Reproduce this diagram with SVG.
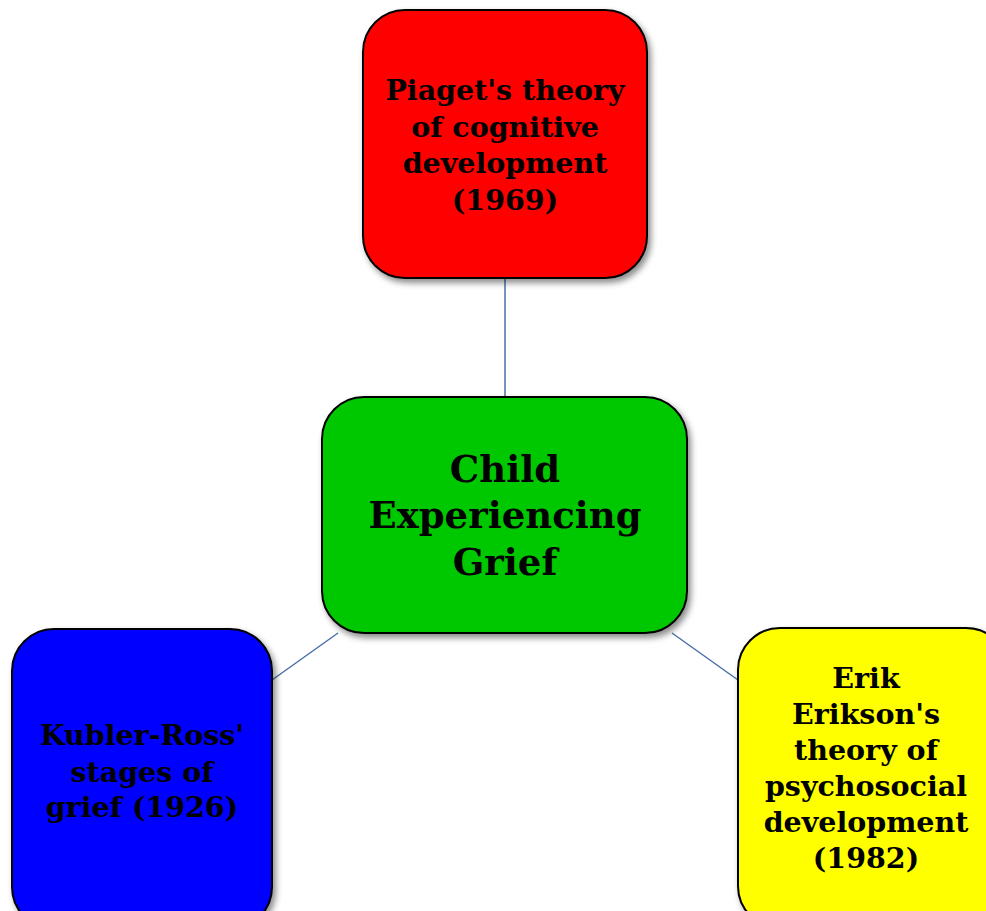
<svg xmlns="http://www.w3.org/2000/svg" width="986" height="911" viewBox="0 0 986 911">
<defs>
<filter id="sh" x="-10%" y="-10%" width="130%" height="130%">
<feDropShadow dx="3" dy="4" stdDeviation="3" flood-color="#000" flood-opacity="0.45"/>
</filter>
</defs>
<style>
.box{stroke:#000;stroke-width:2;filter:url(#sh)}
.t{font-family:"DejaVu Serif","Liberation Serif",serif;font-weight:bold;fill:#000;text-anchor:middle}
.s{font-size:28.5px}
.l{font-size:37px}
.c{stroke:#4a70a8;stroke-width:1.5;fill:none}
</style>
<rect width="986" height="911" fill="#fff"/>
<g id="connectors">
<line class="c" x1="505" y1="278" x2="505" y2="397"/>
<line class="c" x1="338" y1="633" x2="272" y2="680"/>
<line class="c" x1="672" y1="633" x2="738" y2="680"/>
</g>
<g id="piaget">
<rect class="box" x="363" y="10" width="284" height="268" rx="42" fill="#ff0000"/>
<text class="t s" x="505"><tspan x="505" y="100">Piaget's theory</tspan><tspan x="505" y="137">of cognitive</tspan><tspan x="505" y="173">development</tspan><tspan x="505" y="210">(1969)</tspan></text>
</g>
<g id="child">
<rect class="box" x="322" y="397" width="365" height="236" rx="42" fill="#00c800"/>
<text class="t l" x="505"><tspan x="505" y="482">Child</tspan><tspan x="505" y="528">Experiencing</tspan><tspan x="505" y="575">Grief</tspan></text>
</g>
<g id="kubler">
<rect class="box" x="12" y="629" width="260" height="300" rx="42" fill="#0000ff"/>
<text class="t s" x="142"><tspan x="142" y="745">Kubler-Ross'</tspan><tspan x="142" y="782">stages of</tspan><tspan x="142" y="817">grief (1926)</tspan></text>
</g>
<g id="erikson">
<rect class="box" x="738" y="628" width="270" height="300" rx="42" fill="#ffff00"/>
<text class="t s" x="866"><tspan x="866" y="688">Erik</tspan><tspan x="866" y="724">Erikson's</tspan><tspan x="866" y="760">theory of</tspan><tspan x="866" y="796">psychosocial</tspan><tspan x="866" y="832">development</tspan><tspan x="866" y="868">(1982)</tspan></text>
</g>
</svg>
